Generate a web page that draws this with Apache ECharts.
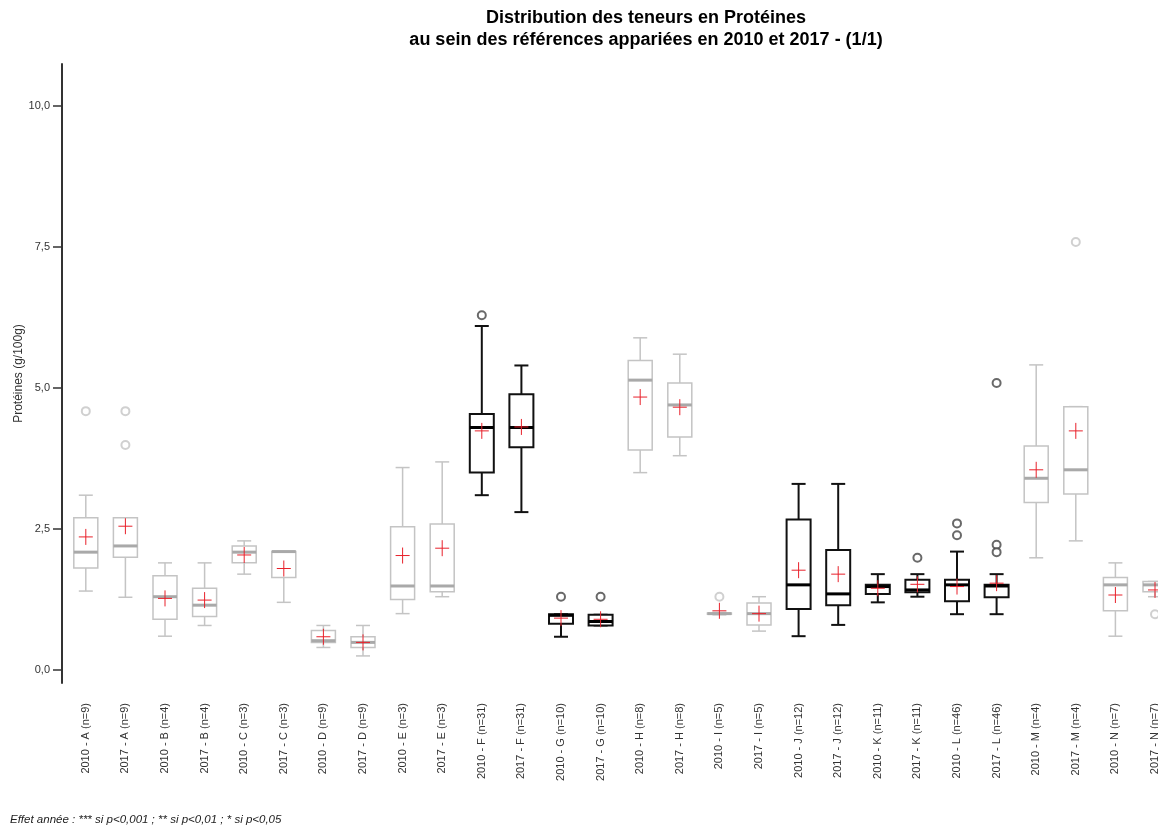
<!DOCTYPE html>
<html>
<head>
<meta charset="utf-8">
<script src="https://cdn.jsdelivr.net/npm/echarts@6/dist/echarts.min.js"></script>
<style>
  html, body { margin: 0; background: #fff; }
  #chart { width: 1158px; height: 828px; }
</style>
</head>
<body>
<div id="chart"></div>
<script>
// categories (year - reference (n))
const categories = [
  '2010 - A (n=9)', '2017 - A (n=9)', '2010 - B (n=4)', '2017 - B (n=4)',
  '2010 - C (n=3)', '2017 - C (n=3)', '2010 - D (n=9)', '2017 - D (n=9)',
  '2010 - E (n=3)', '2017 - E (n=3)', '2010 - F (n=31)', '2017 - F (n=31)',
  '2010 - G (n=10)', '2017 - G (n=10)', '2010 - H (n=8)', '2017 - H (n=8)',
  '2010 - I (n=5)', '2017 - I (n=5)', '2010 - J (n=12)', '2017 - J (n=12)',
  '2010 - K (n=11)', '2017 - K (n=11)', '2010 - L (n=46)', '2017 - L (n=46)',
  '2010 - M (n=4)', '2017 - M (n=4)', '2010 - N (n=7)', '2017 - N (n=7)'
];
// references drawn in black (year effect significant)
const darkGroups = ['F', 'G', 'J', 'K', 'L'];

// box statistics
const mins    = [1.40, 1.29, 0.60, 0.79, 1.70, 1.20, 0.40, 0.25, 1.00, 1.30, 3.10, 2.80, 0.59, 0.79, 3.50, 3.80, 0.98, 0.69, 0.60, 0.80, 1.20, 1.30, 0.99, 0.99, 1.99, 2.29, 0.60, 1.30];
const q1s     = [1.81, 2.00, 0.90, 0.95, 1.90, 1.64, 0.49, 0.40, 1.25, 1.39, 3.50, 3.95, 0.82, 0.79, 3.90, 4.13, 0.99, 0.80, 1.08, 1.15, 1.35, 1.38, 1.22, 1.29, 2.97, 3.12, 1.05, 1.39];
const medians = [2.09, 2.20, 1.30, 1.15, 2.09, 2.10, 0.52, 0.49, 1.49, 1.49, 4.30, 4.30, 0.97, 0.86, 5.14, 4.70, 1.00, 1.00, 1.51, 1.35, 1.48, 1.42, 1.51, 1.49, 3.40, 3.55, 1.51, 1.51];
const q3s     = [2.70, 2.70, 1.67, 1.45, 2.20, 2.10, 0.70, 0.59, 2.54, 2.59, 4.54, 4.89, 0.99, 0.98, 5.49, 5.09, 1.01, 1.19, 2.67, 2.13, 1.51, 1.60, 1.60, 1.51, 3.97, 4.67, 1.64, 1.57];
const maxs    = [3.10, 2.70, 1.90, 1.90, 2.29, 2.10, 0.79, 0.79, 3.59, 3.69, 6.10, 5.40, 0.99, 0.98, 5.89, 5.60, 1.02, 1.30, 3.30, 3.30, 1.70, 1.70, 2.10, 1.70, 5.41, 4.67, 1.90, 1.57];
const means   = [2.36, 2.55, 1.27, 1.24, 2.04, 1.80, 0.59, 0.49, 2.03, 2.16, 4.24, 4.31, 0.92, 0.90, 4.84, 4.66, 1.05, 1.00, 1.77, 1.70, 1.45, 1.52, 1.48, 1.54, 3.55, 4.24, 1.33, 1.42];

// outliers: [category index, value]
const outliers = [
  [0, 4.59], [1, 4.59], [1, 3.99], [10, 6.29], [12, 1.30], [13, 1.30],
  [16, 1.30], [21, 1.99], [22, 2.60], [22, 2.39], [23, 5.09], [23, 2.22],
  [23, 2.09], [25, 7.59], [27, 0.99]
];

const yTicks = [0, 2.5, 5, 7.5, 10];

const isDark = i => darkGroups.includes(categories[i].charAt(7));
const fontFam = '"Liberation Sans", Arial, sans-serif';

const boxData = categories.map((c, i) =>
  [i, mins[i], q1s[i], medians[i], q3s[i], maxs[i], means[i], isDark(i) ? 1 : 0]);

function renderBox(params, api) {
  const i = api.value(0);
  const dark = api.value(7) === 1;
  const y = k => api.coord([i, api.value(k)])[1];
  const x = api.coord([i, api.value(1)])[0];
  const yMin = y(1), yQ1 = y(2), yMed = y(3), yQ3 = y(4), yMax = y(5), yMean = y(6);
  const col = dark ? '#111' : '#c4c4c4';
  const lw = dark ? 2 : 1.5;
  const half = 12, cap = 7;
  const st = { stroke: col, lineWidth: lw };
  const red = { stroke: '#e8202a', lineWidth: 1 };
  return {
    type: 'group',
    children: [
      { type: 'line', shape: { x1: x, y1: yQ1, x2: x, y2: yMin }, style: st },
      { type: 'line', shape: { x1: x, y1: yQ3, x2: x, y2: yMax }, style: st },
      { type: 'line', shape: { x1: x - cap, y1: yMin, x2: x + cap, y2: yMin }, style: st },
      { type: 'line', shape: { x1: x - cap, y1: yMax, x2: x + cap, y2: yMax }, style: st },
      { type: 'rect', shape: { x: x - half, y: yQ3, width: half * 2, height: yQ1 - yQ3 },
        style: { fill: '#fff', stroke: col, lineWidth: lw } },
      { type: 'line', shape: { x1: x - half, y1: yMed, x2: x + half, y2: yMed },
        style: { stroke: dark ? '#000' : '#a9a9a9', lineWidth: 3 } },
      { type: 'line', shape: { x1: x - 7, y1: yMean, x2: x + 7, y2: yMean }, style: red },
      { type: 'line', shape: { x1: x, y1: yMean - 8, x2: x, y2: yMean + 8 }, style: red }
    ]
  };
}

const chart = echarts.init(document.getElementById('chart'));

const option = {
  backgroundColor: '#fff',
  animation: false,
  grid: { left: 66, top: 64, width: 1108.8, height: 619, outerBoundsMode: 'none', containLabel: false },
  graphic: [
    {
      type: 'text', x: 646, y: 7,
      style: {
        text: 'Distribution des teneurs en Protéines\nau sein des références appariées en 2010 et 2017 - (1/1)',
        font: 'bold 18px ' + fontFam, textAlign: 'center', lineHeight: 22, fill: '#000'
      }
    },
    {
      type: 'text', x: 10, y: 820,
      style: {
        text: 'Effet année : *** si p<0,001 ; ** si p<0,01 ; * si p<0,05',
        font: 'italic 11.5px ' + fontFam, textVerticalAlign: 'middle', fill: '#222'
      }
    }
  ],
  xAxis: {
    type: 'category',
    data: categories,
    boundaryGap: true,
    axisLine: { show: false },
    axisTick: { show: false },
    axisLabel: {
      rotate: 90, interval: 0, margin: 20,
      fontSize: 11, color: '#333', fontFamily: fontFam
    },
    splitLine: { show: false }
  },
  yAxis: {
    type: 'value',
    min: -0.23,
    max: 10.745,
    offset: 4,
    name: 'Protéines (g/100g)',
    nameLocation: 'middle',
    nameRotate: 90,
    nameGap: 37,
    nameMoveOverlap: false,
    nameTextStyle: { fontSize: 12, color: '#333', fontFamily: fontFam },
    axisLine: { show: true, lineStyle: { color: '#333', width: 2 } },
    axisTick: { show: true, length: 9, customValues: yTicks, lineStyle: { color: '#333', width: 1.5 } },
    axisLabel: {
      customValues: yTicks, margin: 12, fontSize: 11, color: '#333', fontFamily: fontFam,
      formatter: v => v.toFixed(1).replace('.', ',')
    },
    splitLine: { show: false }
  },
  series: [
    {
      type: 'custom',
      renderItem: renderBox,
      data: boxData,
      encode: { x: 0, y: [1, 5] },
      silent: true,
      z: 2
    },
    {
      type: 'scatter',
      symbol: 'emptyCircle',
      symbolSize: 8,
      silent: true,
      z: 3,
      data: outliers.map(o => ({
        value: o,
        itemStyle: { color: isDark(o[0]) ? '#444' : '#c4c4c4', borderWidth: 1 }
      }))
    }
  ]
};

chart.setOption(option);
</script>
</body>
</html>
